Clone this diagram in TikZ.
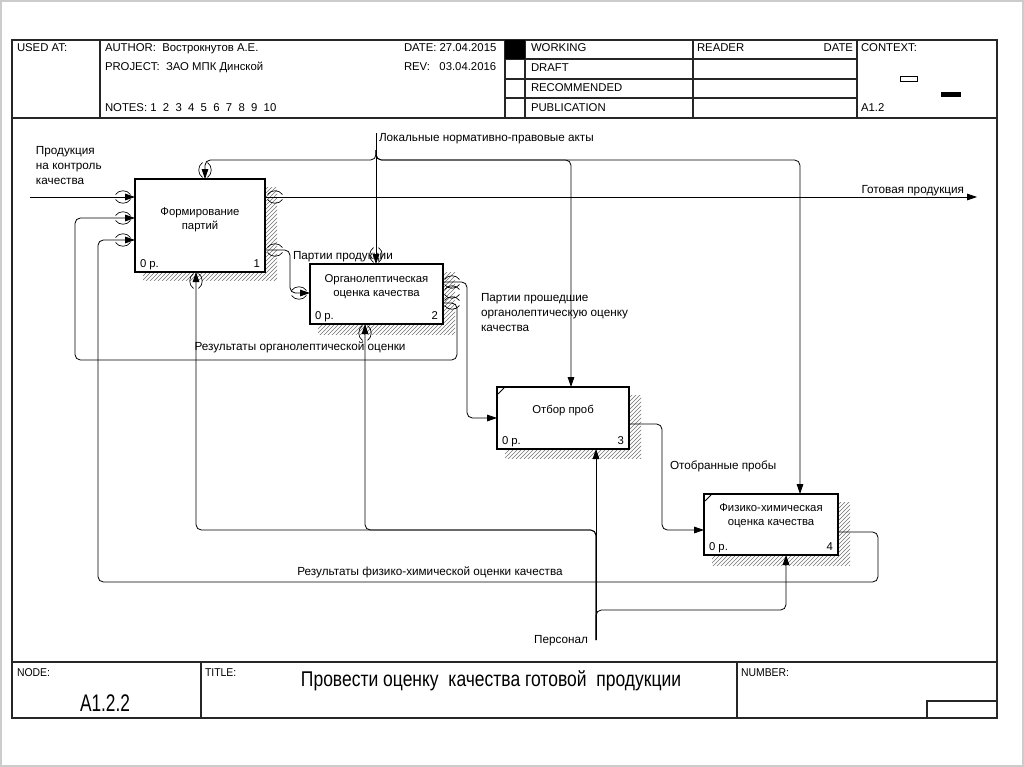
\documentclass[tikz,border=0pt]{standalone}
\usepackage{fontspec}
\setmainfont{Liberation Sans}
\usetikzlibrary{arrows.meta,patterns,calc}
\begin{document}
\begin{tikzpicture}[x=0.75pt,y=-0.75pt,
  every node/.style={inner sep=0pt,outer sep=0pt},
  txt/.style={font=\fontsize{8.5}{10.5}\selectfont},
  lbl/.style={font=\fontsize{8.8}{11.3}\selectfont},
  hdr/.style={font=\fontsize{8.5}{10}\selectfont,anchor=base west},
  frame/.style={line width=0.8pt,draw=black!85},
  box/.style={draw,line width=1.3pt,fill=white,minimum width=#1},
  shadow/.style={pattern=north east lines,pattern color=black!55},
  arr/.style={line width=0.6pt,-{Triangle[length=7.5pt,width=5pt]}},
  rc/.style={rounded corners=4pt},
  htun/.pic={\draw[line width=0.5pt] (-7.5,-2.5) .. controls (-4,-7.5) and (4,-7.5) .. (7.5,-2.5);
             \draw[line width=0.5pt] (-7.5,2.5) .. controls (-4,7.5) and (4,7.5) .. (7.5,2.5);},
  vtun/.pic={\draw[line width=0.5pt] (-2.5,-7.5) .. controls (-7.5,-4) and (-7.5,4) .. (-2.5,7.5);
             \draw[line width=0.5pt] (2.5,-7.5) .. controls (7.5,-4) and (7.5,4) .. (2.5,7.5);}
]
\useasboundingbox (0,0) rectangle (1024,767);
\fill[white] (0,0) rectangle (1024,767);
\draw[black!20,line width=0.8pt] (1,1) rectangle (1023,766);

% ---------- frame ----------
\draw[frame] (12,40) rectangle (997,718);
\draw[frame] (12,118) -- (997,118);
\draw[frame] (12,662) -- (997,662);
\foreach \x in {100,505,525,693,857} \draw[frame] (\x,40) -- (\x,118);
\foreach \y in {59,79,98} \draw[frame] (505,\y) -- (857,\y);
\fill[black] (505,40) rectangle (525,59);
\draw[line width=0.6pt] (900,76) rectangle (917,81);
\fill[black] (941,92) rectangle (961,97);
\draw[frame] (201,662) -- (201,718);
\draw[frame] (737,662) -- (737,718);
\draw[frame] (927,718) -- (927,701) -- (997,701);

% header text
\node[hdr] (usedat) at (17,52) {USED AT:};
\node[hdr] (author) at (105,52) {AUTHOR:\ \ Вострокнутов А.Е.};
\node[hdr] (project) at (105,71) {PROJECT:\ \ ЗАО МПК Динской};
\node[hdr] (notes) at (105,111) {NOTES:\ 1\ \ 2\ \ 3\ \ 4\ \ 5\ \ 6\ \ 7\ \ 8\ \ 9\ \ 10};
\node[hdr] (date) at (404,52) {DATE:\ 27.04.2015};
\node[hdr] (rev) at (404,71) {REV:\ \ \ 03.04.2016};
\node[hdr] (working) at (531,52) {WORKING};
\node[hdr] (draft) at (531,72) {DRAFT};
\node[hdr] (recommended) at (531,91) {RECOMMENDED};
\node[hdr] (publication) at (531,111) {PUBLICATION};
\node[hdr] (reader) at (697,52) {READER};
\node[hdr,anchor=base east] (rdate) at (853,52) {DATE};
\node[hdr] (context) at (861,52) {CONTEXT:};
\node[hdr] (ctxnode) at (861,111) {A1.2};

% footer text
\node[hdr] (nodelbl) at (17,676) {\scalebox{0.92}[1]{NODE:}};
\node[hdr] (titlelbl) at (205,676) {\scalebox{0.92}[1]{TITLE:}};
\node[hdr] (numberlbl) at (741,676) {\scalebox{0.92}[1]{NUMBER:}};
\node[anchor=base,font=\fontsize{18}{20}\selectfont] (nodeid) at (105,711) {\scalebox{0.72}[1]{A1.2.2}};
\node[anchor=base,font=\fontsize{16}{18}\selectfont] (title) at (491,686) {\scalebox{0.82}[1]{Провести оценку\ \ качества готовой\ \ продукции}};

% ---------- boxes ----------
\fill[shadow] (143,187) rectangle (277,280);
\fill[shadow] (318,272) rectangle (455,334);
\fill[shadow] (505,395) rectangle (641,458);
\fill[shadow] (712,502) rectangle (850,565);
\node[box=97.5pt,minimum height=69.75pt] (b1) at (200,225.5) {};
\node[box=99.75pt,minimum height=45pt] (b2) at (376.5,294) {};
\node[box=99pt,minimum height=46.5pt] (b3) at (563,418) {};
\node[box=100.5pt,minimum height=45.75pt] (b4) at (771,524.5) {};
\draw[line width=0.6pt] ($(b3.north west)+(1,7)$) -- ($(b3.north west)+(7,1)$);
\draw[line width=0.6pt] ($(b4.north west)+(1,7)$) -- ($(b4.north west)+(7,1)$);

\node[txt,align=center] (t1) at ($(b1.north)+(0,41)$) {Формирование\\партий};
\node[txt,align=center] (t2) at ($(b2.north)+(0,23)$) {Органолептическая\\оценка качества};
\node[txt,align=center] (t3) at ($(b3.north)+(0,24)$) {Отбор проб};
\node[txt,align=center] (t4) at ($(b4.north)+(0,22)$) {Физико-химическая\\оценка качества};
\foreach \b/\n in {b1/1,b2/2,b3/3,b4/4}{
  \node[txt,anchor=base west] at ($(\b.south west)+(5,-5)$) {0 р.};
  \node[txt,anchor=base east] at ($(\b.south east)+(-5,-5)$) {\n};
}

% ---------- connectors ----------
% input
\coordinate (in1) at (30,197);
\draw[arr] (in1) -- (in1 -| b1.west);
\node[lbl,align=left,anchor=north west] (lin) at (36,146) {Продукция\\на контроль\\качества};

% output
\coordinate (out1) at (977,197);
\draw[arr] (b1.east |- out1) -- (out1);
\node[lbl,anchor=base east] (lout) at (964,193) {Готовая продукция};

% control
\coordinate (ctop) at (376,133);
\coordinate (cj0) at (376,150);
\coordinate (cj) at (376,160);
\coordinate (c1) at (205,160);
\coordinate (c3) at (571,160);
\coordinate (c4) at (800,160);
\draw[arr] (ctop) -- (ctop |- b2.north);
\draw[arr,rc] (cj0) -- (cj) -- (c1) -- (c1 |- b1.north);
\draw[arr,rc] (cj0) -- (cj) -- (c3) -- (c3 |- b3.north);
\draw[arr,rc] (cj0) -- (cj) -- (c4) -- (c4 |- b4.north);
\node[lbl,anchor=base west] (lctrl) at (379,141) {Локальные нормативно-правовые акты};

% box1 -> box2
\coordinate (p1) at (290,250);
\coordinate (k1) at (290,293);
\draw[arr,rc] (b1.east |- p1) -- (p1) -- (k1) -- (k1 -| b2.west);
\node[lbl,anchor=base west] (lp) at (293,259) {Партии продукции};

% box2 -> box3
\coordinate (q1) at (467,282);
\coordinate (q2) at (467,418);
\draw[arr,rc] (b2.east |- q1) -- (q1) -- (q2) -- (q2 -| b3.west);
\node[lbl,align=left,anchor=north west] (lq) at (481,293) {Партии прошедшие\\органолептическую оценку\\качества};

% box2 -> box1 feedback
\coordinate (r1) at (457,303);
\coordinate (r2) at (457,360);
\coordinate (r3) at (75,360);
\coordinate (r4) at (75,218);
\draw[arr,rc] (b2.east |- r1) -- (r1) -- (r2) -- (r3) -- (r4) -- (r4 -| b1.west);
\node[lbl,anchor=base] (lr) at (300,350) {Результаты органолептической оценки};

% box4 -> box1 feedback
\coordinate (s1) at (878,532);
\coordinate (s2) at (878,582);
\coordinate (s3) at (98,582);
\coordinate (s4) at (98,240);
\draw[arr,rc] (b4.east |- s1) -- (s1) -- (s2) -- (s3) -- (s4) -- (s4 -| b1.west);
\node[lbl,anchor=base] (ls) at (430,575) {Результаты физико-химической оценки качества};

% box3 -> box4
\coordinate (u1) at (662,424);
\coordinate (u2) at (662,530);
\draw[arr,rc] (b3.east |- u1) -- (u1) -- (u2) -- (u2 -| b4.west);
\node[lbl,anchor=base west] (lu) at (670,469) {Отобранные пробы};

% mechanism
\coordinate (m0) at (596,640);
\coordinate (m1) at (596,530);
\coordinate (m2) at (196,530);
\coordinate (m3) at (365,530);
\coordinate (n1) at (596,610);
\coordinate (n2) at (786,610);
\draw[arr] (m0) -- (m0 |- b3.south);
\draw[arr,rc] (m0) -- (m1) -- (m2) -- (m2 |- b1.south);
\draw[arr,rc] (m0) -- (m1) -- (m3) -- (m3 |- b2.south);
\draw[arr,rc] (m0) -- (n1) -- (n2) -- (n2 |- b4.south);
\node[lbl,anchor=base east] (lm) at (588,643) {Персонал};

% tunnels
\foreach \y in {197,218,240} \pic at (123,\y) {htun};
\foreach \y in {197,250} \pic at (275,\y) {htun};
\pic at (205,170) {vtun};
\pic at (196,281) {vtun};
\pic at (376,255) {vtun};
\pic at (299,293) {htun};
\pic at (365,333) {vtun};
\foreach \y in {282,292,303} \pic at (452,\y) {htun};
\end{tikzpicture}
\end{document}
